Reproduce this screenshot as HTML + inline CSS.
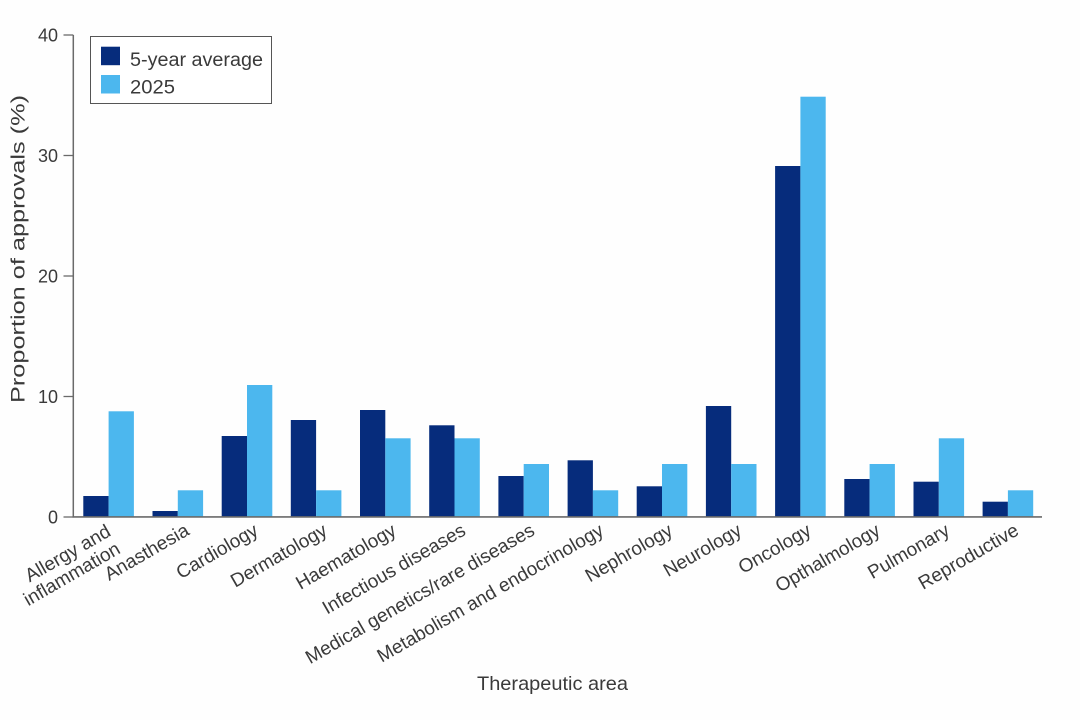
<!DOCTYPE html>
<html>
<head>
<meta charset="utf-8">
<style>
  html, body { margin: 0; padding: 0; background: #fefefe; }
  svg { display: block; }
  text { font-family: "Liberation Sans", "DejaVu Sans", sans-serif; fill: #3a3a3a; }
</style>
</head>
<body>
<svg width="1080" height="720" viewBox="0 0 1080 720" xmlns="http://www.w3.org/2000/svg">
  <rect x="0" y="0" width="1080" height="720" fill="#fefefe"/>

  <!-- Bars: dark = 5-year average, light = 2025 -->
  <g>
    <!-- i: dark x = 83.3 + i*69.18 -->
    <rect x="83.3" y="496" width="25.3" height="21" fill="#062c7c"/>
    <rect x="108.6" y="411.3" width="25.3" height="105.7" fill="#4cb7ee"/>

    <rect x="152.5" y="511" width="25.3" height="6" fill="#062c7c"/>
    <rect x="177.8" y="490.3" width="25.3" height="26.7" fill="#4cb7ee"/>

    <rect x="221.7" y="436" width="25.3" height="81" fill="#062c7c"/>
    <rect x="247.0" y="385" width="25.3" height="132" fill="#4cb7ee"/>

    <rect x="290.8" y="420" width="25.3" height="97" fill="#062c7c"/>
    <rect x="316.1" y="490.3" width="25.3" height="26.7" fill="#4cb7ee"/>

    <rect x="360.0" y="410" width="25.3" height="107" fill="#062c7c"/>
    <rect x="385.3" y="438.3" width="25.3" height="78.7" fill="#4cb7ee"/>

    <rect x="429.2" y="425.3" width="25.3" height="91.7" fill="#062c7c"/>
    <rect x="454.5" y="438.3" width="25.3" height="78.7" fill="#4cb7ee"/>

    <rect x="498.4" y="476" width="25.3" height="41" fill="#062c7c"/>
    <rect x="523.7" y="464" width="25.3" height="53" fill="#4cb7ee"/>

    <rect x="567.6" y="460.3" width="25.3" height="56.7" fill="#062c7c"/>
    <rect x="592.9" y="490.3" width="25.3" height="26.7" fill="#4cb7ee"/>

    <rect x="636.7" y="486.3" width="25.3" height="30.7" fill="#062c7c"/>
    <rect x="662.0" y="464" width="25.3" height="53" fill="#4cb7ee"/>

    <rect x="705.9" y="406" width="25.3" height="111" fill="#062c7c"/>
    <rect x="731.2" y="464" width="25.3" height="53" fill="#4cb7ee"/>

    <rect x="775.1" y="166" width="25.3" height="351" fill="#062c7c"/>
    <rect x="800.4" y="96.7" width="25.3" height="420.3" fill="#4cb7ee"/>

    <rect x="844.3" y="479" width="25.3" height="38" fill="#062c7c"/>
    <rect x="869.6" y="464" width="25.3" height="53" fill="#4cb7ee"/>

    <rect x="913.5" y="481.7" width="25.3" height="35.3" fill="#062c7c"/>
    <rect x="938.8" y="438.3" width="25.3" height="78.7" fill="#4cb7ee"/>

    <rect x="982.6" y="501.7" width="25.3" height="15.3" fill="#062c7c"/>
    <rect x="1007.9" y="490.3" width="25.3" height="26.7" fill="#4cb7ee"/>
  </g>

  <!-- Axes -->
  <line x1="73.3" y1="35" x2="73.3" y2="517.5" stroke="#6a6a6a" stroke-width="1.5"/>
  <line x1="72.6" y1="516.9" x2="1042" y2="516.9" stroke="#6a6a6a" stroke-width="1.6"/>

  <!-- Y ticks -->
  <g stroke="#6a6a6a" stroke-width="1.3">
    <line x1="63.5" y1="35" x2="73.3" y2="35"/>
    <line x1="63.5" y1="155.5" x2="73.3" y2="155.5"/>
    <line x1="63.5" y1="276" x2="73.3" y2="276"/>
    <line x1="63.5" y1="396.5" x2="73.3" y2="396.5"/>
    <line x1="63.5" y1="517" x2="73.3" y2="517"/>
  </g>
  <g font-size="18" text-anchor="end" style="fill:#4a4a4a">
    <text x="58" y="41.5">40</text>
    <text x="58" y="162">30</text>
    <text x="58" y="282.5">20</text>
    <text x="58" y="403">10</text>
    <text x="58" y="523.5">0</text>
  </g>

  <!-- Y axis title -->
  <text x="0" y="0" font-size="19" text-anchor="middle" textLength="308" lengthAdjust="spacingAndGlyphs"
        transform="translate(24.5,249) rotate(-90)">Proportion of approvals (%)</text>

  <!-- X tick labels -->
  <g font-size="19" text-anchor="end">
    <text transform="translate(112,535) rotate(-30)">Allergy and</text>
    <text transform="translate(121.5,552.5) rotate(-30)">inflammation</text>
    <text transform="translate(190.5,534) rotate(-30)">Anasthesia</text>
    <text transform="translate(259.5,534) rotate(-30)">Cardiology</text>
    <text transform="translate(328.5,534) rotate(-30)">Dermatology</text>
    <text transform="translate(397.5,534) rotate(-30)">Haematology</text>
    <text transform="translate(467,534) rotate(-30)">Infectious diseases</text>
    <text transform="translate(536,534) rotate(-30)">Medical genetics/rare diseases</text>
    <text transform="translate(605,534) rotate(-30)">Metabolism and endocrinology</text>
    <text transform="translate(674,534) rotate(-30)">Nephrology</text>
    <text transform="translate(743,534) rotate(-30)">Neurology</text>
    <text transform="translate(812.5,534) rotate(-30)">Oncology</text>
    <text transform="translate(881.5,534) rotate(-30)">Opthalmology</text>
    <text transform="translate(951,534) rotate(-30)">Pulmonary</text>
    <text transform="translate(1020,534) rotate(-30)">Reproductive</text>
  </g>

  <!-- X axis title -->
  <text x="552.5" y="690" font-size="19.5" text-anchor="middle" textLength="151" lengthAdjust="spacingAndGlyphs">Therapeutic area</text>

  <!-- Legend -->
  <rect x="90.5" y="36.5" width="181" height="67" fill="#ffffff" stroke="#555" stroke-width="1"/>
  <rect x="101" y="46.7" width="19" height="18.5" fill="#062c7c"/>
  <rect x="101" y="75" width="19" height="18.5" fill="#4cb7ee"/>
  <text x="130" y="66" font-size="19" textLength="133" lengthAdjust="spacingAndGlyphs">5-year average</text>
  <text x="130" y="93.5" font-size="19" textLength="45" lengthAdjust="spacingAndGlyphs">2025</text>
</svg>
</body>
</html>
